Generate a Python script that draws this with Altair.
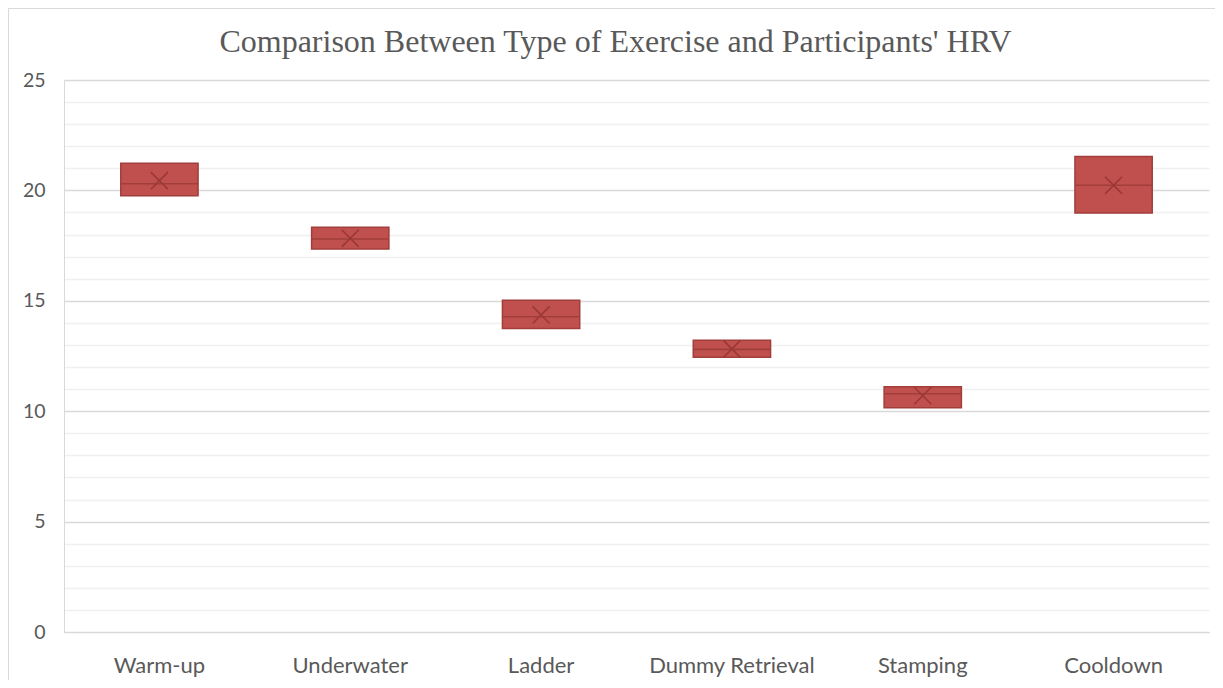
import altair as alt
import pandas as pd

categories = ["Warm-up", "Underwater", "Ladder", "Dummy Retrieval", "Stamping", "Cooldown"]
q1 = [19.76, 17.35, 13.75, 12.44, 10.16, 18.98]
q3 = [21.23, 18.33, 15.02, 13.21, 11.11, 21.54]
median = [20.30, 17.80, 14.28, 12.80, 10.79, 20.23]
mean = [20.44, 17.83, 14.36, 12.82, 10.70, 20.23]
y_ticks = list(range(0, 26))
title_text = "Comparison Between Type of Exercise and Participants' HRV"

df = pd.DataFrame({"cat": categories, "q1": q1, "q3": q3, "median": median, "mean": mean})

FILL = "#C0504D"
STROKE = "#A13E3B"
TXT = "#595959"
W, H = 1145, 552

xscale = alt.Scale(paddingInner=0, paddingOuter=0)
xaxis = alt.Axis(labelFont="Lato", labelFontSize=22, labelColor=TXT,
                 labelPadding=23, ticks=False, domainColor="#d9d9d9",
                 domainWidth=1, labelAngle=0, grid=False, labelOverlap=False)
yscale = alt.Scale(domain=[0, 25], nice=False, zero=True)
yaxis = alt.Axis(values=y_ticks, labelExpr="datum.value % 5 === 0 ? datum.label : ''",
                 labelOverlap=False, labelFlush=False,
                 labelFont="Lato", labelFontSize=19.5, labelColor=TXT, labelPadding=19,
                 ticks=False, domainColor="#d9d9d9", domainWidth=1,
                 gridColor={"condition": {"test": "datum.value % 5 === 0", "value": "#d9d9d9"},
                            "value": "#f0f0f0"},
                 gridWidth=1.3)


def X():
    return alt.X("cat:N", sort=categories, title=None, scale=xscale, axis=xaxis)


def Y(field):
    return alt.Y(field, scale=yscale, axis=yaxis, title=None)


base = alt.Chart(df)

boxes = base.mark_bar(width={"band": 0.405}, fill=FILL, stroke=STROKE, strokeWidth=1.5).encode(
    x=X(), y=Y("q1:Q"), y2="q3:Q",
)
med = base.mark_tick(orient="horizontal", size=77, thickness=1.6, color=STROKE, opacity=1).encode(
    x=X(), y=Y("median:Q"),
)
mn = base.mark_point(shape="M-1,-1L1,1M1,-1L-1,1", size=290, filled=False, stroke="#9A3835",
                     strokeWidth=1.6, opacity=1).encode(
    x=X(), y=Y("mean:Q"),
)

one = alt.Data(values=[{"t": title_text}])
border = alt.Chart(one).mark_rect(fill=None, stroke="#d9d9d9", strokeWidth=1).encode(
    x=alt.value(-55.5), x2=alt.value(W + 40), y=alt.value(-71.5), y2=alt.value(H + 80)
)
title = alt.Chart(one).mark_text(font="Liberation Serif", fontSize=32, color=TXT,
                                 align="center", baseline="middle").encode(
    x=alt.value(615.5 - 64), y=alt.value(42 - 80), text="t:N"
)

chart = alt.layer(boxes, med, mn, border, title).properties(
    width=W, height=H,
    autosize=alt.AutoSizeParams(type="none"),
    padding={"left": 56, "top": 72, "right": 6, "bottom": 48},
).configure_view(stroke=None)

chart.save("out.html", embed_options={"renderer": "svg", "actions": False})
